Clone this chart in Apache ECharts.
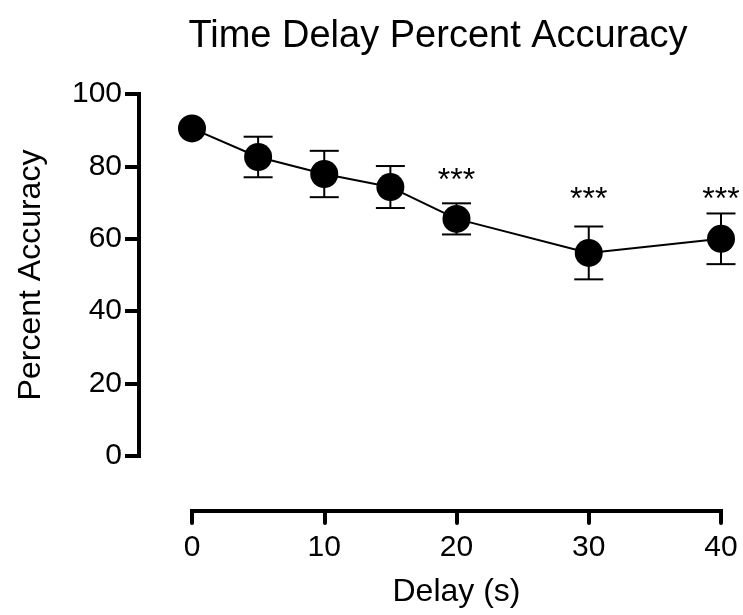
<!DOCTYPE html>
<html>
<head>
<meta charset="utf-8">
<script src="https://cdn.jsdelivr.net/npm/echarts@6/dist/echarts.min.js"></script>
<style>
html,body{margin:0;padding:0;background:#fff;}
#chart{width:743px;height:615px;}
</style>
</head>
<body>
<div id="chart"></div>
<script>
// Data
var delays = [0, 5, 10, 15, 20, 30, 40];
var meanAccuracy = [90.5, 82.6, 77.9, 74.3, 65.5, 56.1, 60.0];
var semAccuracy = [0, 5.6, 6.4, 5.8, 4.3, 7.3, 7.0];
var sigDelays = [20, 30, 40];
var sigMarks = ['***', '***', '***'];
var sigHeights = [77.5, 72.3, 72.3];
var xTicks = [0, 10, 20, 30, 40];
var yTicks = [0, 20, 40, 60, 80, 100];

var FONT = '"Liberation Sans", Arial, sans-serif';
var chart = echarts.init(document.getElementById('chart'));

var lineData = delays.map(function (d, i) { return [d, meanAccuracy[i]]; });
var errData = delays.map(function (d, i) {
  return [d, meanAccuracy[i] - semAccuracy[i], meanAccuracy[i] + semAccuracy[i]];
}).filter(function (r, i) { return semAccuracy[i] > 0; });
var starData = sigDelays.map(function (d, i) { return [d, sigHeights[i], sigMarks[i]]; });

var option = {
  animation: false,
  backgroundColor: '#fff',
  title: {
    text: 'Time Delay Percent Accuracy',
    left: 433, top: 13, textAlign: 'center',
    textStyle: { fontFamily: FONT, fontSize: 38, fontWeight: 'normal', color: '#000' }
  },
  grid: { left: 192, right: 22, top: 94, bottom: 159 },
  xAxis: {
    type: 'value', min: 0, max: 40, interval: 10, offset: 55,
    name: 'Delay (s)', nameLocation: 'middle', nameGap: 65,
    nameTextStyle: { fontFamily: FONT, fontSize: 32, color: '#000' },
    axisLine: { onZero: false, lineStyle: { color: '#000', width: 4, cap: 'square' } },
    axisTick: { length: 12, lineStyle: { color: '#000', width: 4, cap: 'round' } },
    axisLabel: {
      margin: 22, fontFamily: FONT, fontSize: 30, color: '#000',
      customValues: xTicks
    },
    splitLine: { show: false }
  },
  yAxis: {
    type: 'value', min: 0, max: 100, interval: 20, offset: 53,
    name: 'Percent Accuracy', nameLocation: 'middle', nameGap: 92,
    nameTextStyle: { fontFamily: FONT, fontSize: 32, color: '#000' },
    axisLine: { onZero: false, lineStyle: { color: '#000', width: 4, cap: 'square' } },
    axisTick: { length: 14, lineStyle: { color: '#000', width: 4 } },
    axisLabel: { margin: 17, fontFamily: FONT, fontSize: 30, color: '#000', customValues: yTicks },
    splitLine: { show: false }
  },
  series: [
    {
      type: 'custom',
      data: errData,
      z: 3,
      renderItem: function (params, api) {
        var x = api.value(0);
        var lo = api.coord([x, api.value(1)]);
        var hi = api.coord([x, api.value(2)]);
        var hw = 14.5;
        var st = { stroke: '#000', lineWidth: 2 };
        return {
          type: 'group',
          children: [
            { type: 'line', shape: { x1: lo[0], y1: lo[1], x2: hi[0], y2: hi[1] }, style: st },
            { type: 'line', shape: { x1: hi[0] - hw, y1: hi[1], x2: hi[0] + hw, y2: hi[1] }, style: st },
            { type: 'line', shape: { x1: lo[0] - hw, y1: lo[1], x2: lo[0] + hw, y2: lo[1] }, style: st }
          ]
        };
      }
    },
    {
      type: 'line',
      data: lineData,
      z: 4,
      symbol: 'circle', symbolSize: 28,
      itemStyle: { color: '#000' },
      lineStyle: { color: '#000', width: 2 }
    },
    {
      type: 'custom',
      data: starData,
      z: 5,
      renderItem: function (params, api) {
        var p = api.coord([api.value(0), api.value(1)]);
        return {
          type: 'text',
          style: {
            x: p[0], y: p[1] + 6, text: sigMarks[params.dataIndex],
            fontFamily: FONT, fontSize: 32, fill: '#000',
            align: 'center', verticalAlign: 'middle'
          }
        };
      }
    }
  ]
};
chart.setOption(option);
</script>
</body>
</html>
